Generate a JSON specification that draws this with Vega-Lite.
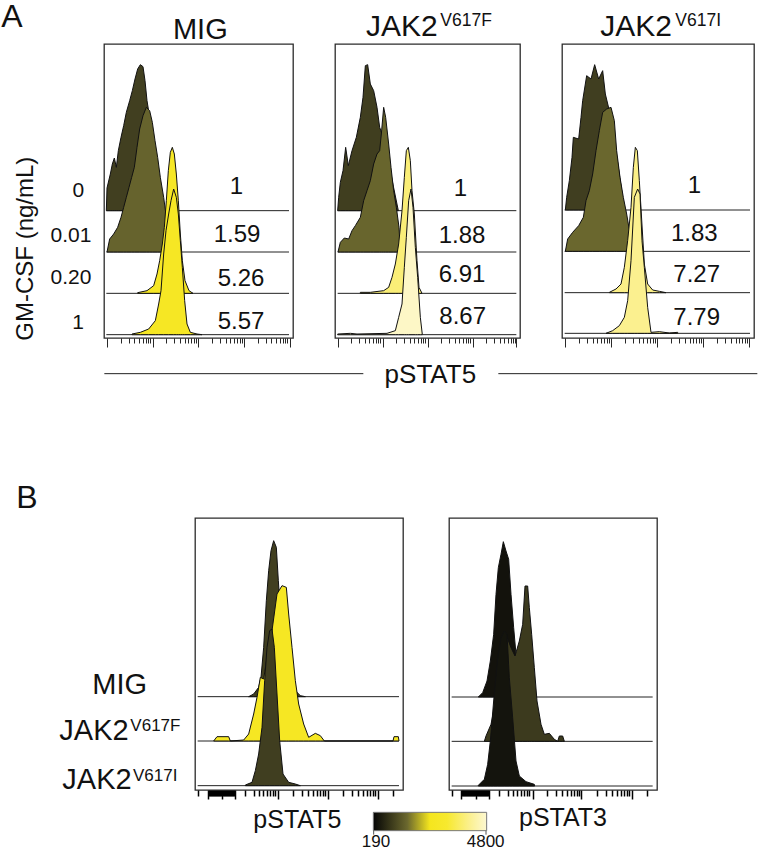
{"$schema":"https://vega.github.io/schema/vega-lite/v6.json","padding":0,"background":"white","spacing":474,"bounds":"flush",
"config":{"view":{"stroke":"#2b2b2b","strokeWidth":1.3},"text":{"font":"Liberation Sans","color":"#111"},"axis":{"domain":false,"labels":false,"grid":false,"title":null,"tickColor":"#111","tickWidth":0.9}},
"datasets":{
"samples":[{"s":"A1-0","panel":"A1","b":382,"mfi":880,"from":7,"to":555},{"s":"A1-1","panel":"A1","b":258,"mfi":1300,"from":7,"to":555},{"s":"A1-2","panel":"A1","b":134,"mfi":2600,"from":7,"to":555},{"s":"A1-3","panel":"A1","b":10,"mfi":2500,"from":7,"to":555},
{"s":"A2-0","panel":"A2","b":382,"mfi":860,"from":8,"to":544},{"s":"A2-1","panel":"A2","b":258,"mfi":1320,"from":8,"to":544},{"s":"A2-2","panel":"A2","b":134,"mfi":3700,"from":8,"to":544},{"s":"A2-3","panel":"A2","b":10,"mfi":4650,"from":8,"to":544},
{"s":"A3-0","panel":"A3","b":384,"mfi":870,"from":8,"to":564},{"s":"A3-1","panel":"A3","b":260,"mfi":1340,"from":8,"to":564},{"s":"A3-2","panel":"A3","b":136,"mfi":3900,"from":8,"to":564},{"s":"A3-3","panel":"A3","b":14,"mfi":4000,"from":8,"to":564},
{"s":"B1-0","panel":"B1","b":280,"mfi":880,"from":8,"to":612},{"s":"B1-1","panel":"B1","b":147,"mfi":2450,"from":8,"to":612},{"s":"B1-2","panel":"B1","b":13,"mfi":870,"from":8,"to":612},
{"s":"B2-0","panel":"B2","b":279,"mfi":300,"from":8,"to":611},{"s":"B2-1","panel":"B2","b":146,"mfi":820,"from":8,"to":611},{"s":"B2-2","panel":"B2","b":12,"mfi":320,"from":8,"to":611}],
"A1":[{"s":"A1-0","x":7,"y":382},{"s":"A1-0","x":9,"y":450},{"s":"A1-0","x":19,"y":492},{"s":"A1-0","x":25,"y":522},{"s":"A1-0","x":31,"y":540},{"s":"A1-0","x":37,"y":512},{"s":"A1-0","x":43,"y":562},{"s":"A1-0","x":51,"y":602},{"s":"A1-0","x":59,"y":637},{"s":"A1-0","x":67,"y":677},{"s":"A1-0","x":77,"y":712},{"s":"A1-0","x":85,"y":742},{"s":"A1-0","x":93,"y":777},{"s":"A1-0","x":101,"y":807},{"s":"A1-0","x":109,"y":820},{"s":"A1-0","x":117,"y":814},{"s":"A1-0","x":123,"y":772},{"s":"A1-0","x":129,"y":712},{"s":"A1-0","x":137,"y":662},{"s":"A1-0","x":145,"y":602},{"s":"A1-0","x":153,"y":542},{"s":"A1-0","x":161,"y":492},{"s":"A1-0","x":171,"y":442},{"s":"A1-0","x":181,"y":382},
{"s":"A1-1","x":9,"y":258},{"s":"A1-1","x":17,"y":297},{"s":"A1-1","x":29,"y":312},{"s":"A1-1","x":41,"y":332},{"s":"A1-1","x":51,"y":362},{"s":"A1-1","x":59,"y":392},{"s":"A1-1","x":67,"y":422},{"s":"A1-1","x":75,"y":452},{"s":"A1-1","x":83,"y":482},{"s":"A1-1","x":91,"y":512},{"s":"A1-1","x":99,"y":572},{"s":"A1-1","x":107,"y":627},{"s":"A1-1","x":117,"y":667},{"s":"A1-1","x":127,"y":692},{"s":"A1-1","x":137,"y":682},{"s":"A1-1","x":145,"y":647},{"s":"A1-1","x":153,"y":592},{"s":"A1-1","x":161,"y":542},{"s":"A1-1","x":169,"y":482},{"s":"A1-1","x":179,"y":422},{"s":"A1-1","x":187,"y":362},{"s":"A1-1","x":195,"y":258},
{"s":"A1-2","x":101,"y":136},{"s":"A1-2","x":129,"y":142},{"s":"A1-2","x":149,"y":157},{"s":"A1-2","x":159,"y":192},{"s":"A1-2","x":167,"y":232},{"s":"A1-2","x":175,"y":282},{"s":"A1-2","x":181,"y":332},{"s":"A1-2","x":187,"y":412},{"s":"A1-2","x":193,"y":502},{"s":"A1-2","x":199,"y":557},{"s":"A1-2","x":205,"y":572},{"s":"A1-2","x":211,"y":552},{"s":"A1-2","x":217,"y":492},{"s":"A1-2","x":223,"y":412},{"s":"A1-2","x":229,"y":312},{"s":"A1-2","x":235,"y":232},{"s":"A1-2","x":243,"y":172},{"s":"A1-2","x":255,"y":142},{"s":"A1-2","x":267,"y":134},
{"s":"A1-3","x":84,"y":12},{"s":"A1-3","x":109,"y":17},{"s":"A1-3","x":134,"y":27},{"s":"A1-3","x":154,"y":52},{"s":"A1-3","x":164,"y":102},{"s":"A1-3","x":171,"y":142},{"s":"A1-3","x":179,"y":252},{"s":"A1-3","x":186,"y":322},{"s":"A1-3","x":194,"y":372},{"s":"A1-3","x":201,"y":412},{"s":"A1-3","x":209,"y":447},{"s":"A1-3","x":217,"y":422},{"s":"A1-3","x":223,"y":372},{"s":"A1-3","x":229,"y":292},{"s":"A1-3","x":235,"y":212},{"s":"A1-3","x":242,"y":112},{"s":"A1-3","x":249,"y":42},{"s":"A1-3","x":259,"y":17},{"s":"A1-3","x":279,"y":12},{"s":"A1-3","x":294,"y":10}],
"A2":[{"s":"A2-0","x":8,"y":382},{"s":"A2-0","x":11,"y":422},{"s":"A2-0","x":16,"y":467},{"s":"A2-0","x":24,"y":502},{"s":"A2-0","x":32,"y":572},{"s":"A2-0","x":40,"y":517},{"s":"A2-0","x":51,"y":562},{"s":"A2-0","x":64,"y":602},{"s":"A2-0","x":76,"y":662},{"s":"A2-0","x":84,"y":722},{"s":"A2-0","x":91,"y":817},{"s":"A2-0","x":98,"y":820},{"s":"A2-0","x":106,"y":762},{"s":"A2-0","x":116,"y":742},{"s":"A2-0","x":126,"y":692},{"s":"A2-0","x":134,"y":632},{"s":"A2-0","x":141,"y":612},{"s":"A2-0","x":151,"y":582},{"s":"A2-0","x":170,"y":480},{"s":"A2-0","x":190,"y":382},
{"s":"A2-1","x":9,"y":258},{"s":"A2-1","x":16,"y":287},{"s":"A2-1","x":28,"y":300},{"s":"A2-1","x":41,"y":297},{"s":"A2-1","x":51,"y":322},{"s":"A2-1","x":61,"y":337},{"s":"A2-1","x":76,"y":362},{"s":"A2-1","x":86,"y":412},{"s":"A2-1","x":96,"y":442},{"s":"A2-1","x":106,"y":472},{"s":"A2-1","x":116,"y":522},{"s":"A2-1","x":126,"y":552},{"s":"A2-1","x":134,"y":562},{"s":"A2-1","x":139,"y":612},{"s":"A2-1","x":146,"y":692},{"s":"A2-1","x":152,"y":662},{"s":"A2-1","x":161,"y":582},{"s":"A2-1","x":168,"y":512},{"s":"A2-1","x":176,"y":442},{"s":"A2-1","x":184,"y":392},{"s":"A2-1","x":192,"y":332},{"s":"A2-1","x":196,"y":258},
{"s":"A2-2","x":76,"y":137},{"s":"A2-2","x":106,"y":137},{"s":"A2-2","x":146,"y":142},{"s":"A2-2","x":161,"y":152},{"s":"A2-2","x":171,"y":182},{"s":"A2-2","x":181,"y":222},{"s":"A2-2","x":191,"y":282},{"s":"A2-2","x":201,"y":382},{"s":"A2-2","x":208,"y":482},{"s":"A2-2","x":214,"y":562},{"s":"A2-2","x":220,"y":572},{"s":"A2-2","x":226,"y":532},{"s":"A2-2","x":231,"y":442},{"s":"A2-2","x":238,"y":372},{"s":"A2-2","x":246,"y":232},{"s":"A2-2","x":252,"y":152},{"s":"A2-2","x":261,"y":134},
{"s":"A2-3","x":8,"y":12},{"s":"A2-3","x":46,"y":14},{"s":"A2-3","x":66,"y":12},{"s":"A2-3","x":156,"y":14},{"s":"A2-3","x":181,"y":22},{"s":"A2-3","x":191,"y":62},{"s":"A2-3","x":201,"y":102},{"s":"A2-3","x":208,"y":212},{"s":"A2-3","x":214,"y":302},{"s":"A2-3","x":221,"y":412},{"s":"A2-3","x":228,"y":447},{"s":"A2-3","x":234,"y":392},{"s":"A2-3","x":241,"y":272},{"s":"A2-3","x":248,"y":182},{"s":"A2-3","x":256,"y":62},{"s":"A2-3","x":262,"y":10}],
"A3":[{"s":"A3-0","x":10,"y":384},{"s":"A3-0","x":14,"y":422},{"s":"A3-0","x":22,"y":472},{"s":"A3-0","x":30,"y":542},{"s":"A3-0","x":34,"y":602},{"s":"A3-0","x":50,"y":597},{"s":"A3-0","x":57,"y":662},{"s":"A3-0","x":62,"y":712},{"s":"A3-0","x":74,"y":787},{"s":"A3-0","x":87,"y":777},{"s":"A3-0","x":98,"y":820},{"s":"A3-0","x":110,"y":777},{"s":"A3-0","x":122,"y":802},{"s":"A3-0","x":130,"y":732},{"s":"A3-0","x":142,"y":682},{"s":"A3-0","x":157,"y":592},{"s":"A3-0","x":172,"y":492},{"s":"A3-0","x":187,"y":384},
{"s":"A3-1","x":10,"y":260},{"s":"A3-1","x":17,"y":297},{"s":"A3-1","x":32,"y":317},{"s":"A3-1","x":50,"y":337},{"s":"A3-1","x":64,"y":362},{"s":"A3-1","x":72,"y":412},{"s":"A3-1","x":82,"y":442},{"s":"A3-1","x":92,"y":492},{"s":"A3-1","x":102,"y":562},{"s":"A3-1","x":112,"y":622},{"s":"A3-1","x":122,"y":677},{"s":"A3-1","x":134,"y":687},{"s":"A3-1","x":147,"y":692},{"s":"A3-1","x":157,"y":652},{"s":"A3-1","x":164,"y":562},{"s":"A3-1","x":174,"y":482},{"s":"A3-1","x":184,"y":422},{"s":"A3-1","x":194,"y":372},{"s":"A3-1","x":204,"y":312},{"s":"A3-1","x":208,"y":260},
{"s":"A3-2","x":142,"y":137},{"s":"A3-2","x":162,"y":147},{"s":"A3-2","x":177,"y":162},{"s":"A3-2","x":187,"y":212},{"s":"A3-2","x":197,"y":292},{"s":"A3-2","x":207,"y":392},{"s":"A3-2","x":214,"y":512},{"s":"A3-2","x":220,"y":572},{"s":"A3-2","x":226,"y":562},{"s":"A3-2","x":232,"y":472},{"s":"A3-2","x":238,"y":372},{"s":"A3-2","x":247,"y":222},{"s":"A3-2","x":257,"y":162},{"s":"A3-2","x":272,"y":144},{"s":"A3-2","x":292,"y":140},{"s":"A3-2","x":312,"y":136},
{"s":"A3-3","x":132,"y":14},{"s":"A3-3","x":152,"y":22},{"s":"A3-3","x":172,"y":37},{"s":"A3-3","x":187,"y":62},{"s":"A3-3","x":197,"y":112},{"s":"A3-3","x":207,"y":232},{"s":"A3-3","x":217,"y":422},{"s":"A3-3","x":227,"y":447},{"s":"A3-3","x":234,"y":432},{"s":"A3-3","x":240,"y":292},{"s":"A3-3","x":247,"y":212},{"s":"A3-3","x":257,"y":92},{"s":"A3-3","x":267,"y":17},{"s":"A3-3","x":292,"y":19},{"s":"A3-3","x":322,"y":15},{"s":"A3-3","x":347,"y":17}],
"B1":[{"s":"B1-0","x":161,"y":280},{"s":"B1-0","x":176,"y":288},{"s":"B1-0","x":191,"y":308},{"s":"B1-0","x":198,"y":338},{"s":"B1-0","x":206,"y":428},{"s":"B1-0","x":214,"y":568},{"s":"B1-0","x":221,"y":658},{"s":"B1-0","x":228,"y":718},{"s":"B1-0","x":236,"y":748},{"s":"B1-0","x":244,"y":728},{"s":"B1-0","x":250,"y":628},{"s":"B1-0","x":258,"y":508},{"s":"B1-0","x":266,"y":428},{"s":"B1-0","x":286,"y":348},{"s":"B1-0","x":301,"y":298},{"s":"B1-0","x":316,"y":283},{"s":"B1-0","x":331,"y":280},
{"s":"B1-1","x":56,"y":147},{"s":"B1-1","x":66,"y":160},{"s":"B1-1","x":101,"y":160},{"s":"B1-1","x":106,"y":147},{"s":"B1-1","x":146,"y":150},{"s":"B1-1","x":161,"y":168},{"s":"B1-1","x":176,"y":228},{"s":"B1-1","x":186,"y":278},{"s":"B1-1","x":196,"y":338},{"s":"B1-1","x":206,"y":333},{"s":"B1-1","x":216,"y":398},{"s":"B1-1","x":231,"y":478},{"s":"B1-1","x":246,"y":588},{"s":"B1-1","x":261,"y":613},{"s":"B1-1","x":274,"y":608},{"s":"B1-1","x":281,"y":528},{"s":"B1-1","x":291,"y":428},{"s":"B1-1","x":301,"y":328},{"s":"B1-1","x":311,"y":258},{"s":"B1-1","x":326,"y":198},{"s":"B1-1","x":341,"y":158},{"s":"B1-1","x":361,"y":170},{"s":"B1-1","x":376,"y":163},{"s":"B1-1","x":388,"y":147},{"s":"B1-1","x":594,"y":147},{"s":"B1-1","x":597,"y":160},{"s":"B1-1","x":610,"y":160},{"s":"B1-1","x":612,"y":147},
{"s":"B1-2","x":151,"y":15},{"s":"B1-2","x":171,"y":23},{"s":"B1-2","x":181,"y":58},{"s":"B1-2","x":191,"y":108},{"s":"B1-2","x":201,"y":188},{"s":"B1-2","x":209,"y":328},{"s":"B1-2","x":216,"y":428},{"s":"B1-2","x":224,"y":478},{"s":"B1-2","x":231,"y":483},{"s":"B1-2","x":238,"y":428},{"s":"B1-2","x":246,"y":288},{"s":"B1-2","x":254,"y":148},{"s":"B1-2","x":264,"y":48},{"s":"B1-2","x":281,"y":23},{"s":"B1-2","x":301,"y":18},{"s":"B1-2","x":316,"y":13}],
"B2":[{"s":"B2-0","x":88,"y":279},{"s":"B2-0","x":101,"y":292},{"s":"B2-0","x":114,"y":327},{"s":"B2-0","x":124,"y":387},{"s":"B2-0","x":134,"y":467},{"s":"B2-0","x":141,"y":587},{"s":"B2-0","x":148,"y":667},{"s":"B2-0","x":156,"y":707},{"s":"B2-0","x":163,"y":745},{"s":"B2-0","x":171,"y":717},{"s":"B2-0","x":179,"y":692},{"s":"B2-0","x":186,"y":587},{"s":"B2-0","x":194,"y":487},{"s":"B2-0","x":201,"y":407},{"s":"B2-0","x":220,"y":340},{"s":"B2-0","x":240,"y":290},{"s":"B2-0","x":256,"y":279},
{"s":"B2-1","x":106,"y":146},{"s":"B2-1","x":111,"y":162},{"s":"B2-1","x":126,"y":197},{"s":"B2-1","x":136,"y":247},{"s":"B2-1","x":146,"y":367},{"s":"B2-1","x":156,"y":447},{"s":"B2-1","x":171,"y":467},{"s":"B2-1","x":186,"y":427},{"s":"B2-1","x":198,"y":402},{"s":"B2-1","x":211,"y":447},{"s":"B2-1","x":221,"y":497},{"s":"B2-1","x":228,"y":612},{"s":"B2-1","x":236,"y":612},{"s":"B2-1","x":241,"y":547},{"s":"B2-1","x":248,"y":467},{"s":"B2-1","x":256,"y":367},{"s":"B2-1","x":264,"y":267},{"s":"B2-1","x":276,"y":197},{"s":"B2-1","x":286,"y":167},{"s":"B2-1","x":301,"y":170},{"s":"B2-1","x":316,"y":152},{"s":"B2-1","x":326,"y":146},{"s":"B2-1","x":331,"y":162},{"s":"B2-1","x":341,"y":162},{"s":"B2-1","x":346,"y":146},
{"s":"B2-2","x":88,"y":14},{"s":"B2-2","x":106,"y":32},{"s":"B2-2","x":116,"y":77},{"s":"B2-2","x":124,"y":147},{"s":"B2-2","x":134,"y":267},{"s":"B2-2","x":146,"y":397},{"s":"B2-2","x":156,"y":457},{"s":"B2-2","x":166,"y":477},{"s":"B2-2","x":174,"y":467},{"s":"B2-2","x":181,"y":337},{"s":"B2-2","x":191,"y":217},{"s":"B2-2","x":201,"y":87},{"s":"B2-2","x":211,"y":42},{"s":"B2-2","x":231,"y":25},{"s":"B2-2","x":256,"y":17},{"s":"B2-2","x":257,"y":12}]
},
"vconcat":[
{"spacing":42,"bounds":"flush","hconcat":[
{"width":189,"height":294,
"encoding":{"x":{"field":"x","type":"quantitative","scale":{"domain":[0,567]},"axis":{"values":[9,50,74,91,105,116,125,133,139,146,187,211,228,242,253,262,270,276,283,324,348,365,379,390,399,407,413,420,461,485,502,516,527,536,544,550,557],"tickSize":{"condition":{"test":"indexof([9,146,283,420,557],datum.value)>=0","value":9},"value":5}}},"y":{"field":"y","type":"quantitative","scale":{"domain":[0,882]},"axis":null}},
"layer":[
{"data":{"name":"samples"},"transform":[{"filter":"datum.panel==='A1'"}],"mark":{"type":"rule","color":"#222","strokeWidth":1},"encoding":{"x":{"field":"from","type":"quantitative"},"x2":{"field":"to"},"y":{"field":"b","type":"quantitative"}}},
{"data":{"name":"A1"},"transform":[{"lookup":"s","from":{"data":{"name":"samples"},"key":"s","fields":["b","mfi"]}}],"mark":{"type":"area","interpolate":"linear","stroke":"#111","strokeWidth":1},"encoding":{"y":{"field":"y","type":"quantitative","stack":null},"y2":{"field":"b"},"detail":{"field":"s"},"color":{"field":"mfi","type":"quantitative","legend":null,"scale":{"domain":[190,1350,2250,3000,4000,4800],"range":["#050505","#6b682e","#f5e61e","#f7e92e","#fbf08f","#fdf8d2"]}}}},
{"data":{"values":[{"t":"1","x":397,"y":432},{"t":"1.59","x":399,"y":287},{"t":"5.26","x":411,"y":157},{"t":"5.57","x":411,"y":27}]},"mark":{"type":"text","fontSize":24,"baseline":"alphabetic"},"encoding":{"text":{"field":"t"}}},
{"data":{"values":[{"t":"0","x":-77,"y":422},{"t":"0.01","x":-99,"y":287},{"t":"0.20","x":-99,"y":162},{"t":"1","x":-78,"y":27}]},"mark":{"type":"text","fontSize":21,"baseline":"alphabetic"},"encoding":{"text":{"field":"t"}}},
{"data":{"values":[{"t":"GM-CSF (ng/mL)","x":-212,"y":268}]},"mark":{"type":"text","fontSize":24,"angle":270,"baseline":"alphabetic"},"encoding":{"text":{"field":"t"}}},
{"data":{"values":[{"t":"A","x":-308,"y":934}]},"mark":{"type":"text","fontSize":32,"align":"left","baseline":"alphabetic"},"encoding":{"text":{"field":"t"}}},
{"data":{"values":[{"t":"MIG","x":289,"y":897}]},"mark":{"type":"text","fontSize":29,"baseline":"alphabetic"},"encoding":{"text":{"field":"t"}}}
]},
{"width":185,"height":294,
"encoding":{"x":{"field":"x","type":"quantitative","scale":{"domain":[0,555]},"axis":{"values":[8,48,72,89,103,113,122,130,136,143,183,207,224,237,248,257,265,271,278,318,342,359,372,383,392,400,406,413,453,477,494,507,518,527,535,541,544],"tickSize":{"condition":{"test":"indexof([8,143,278,413,544],datum.value)>=0","value":9},"value":5}}},"y":{"field":"y","type":"quantitative","scale":{"domain":[0,882]},"axis":null}},
"layer":[
{"data":{"name":"samples"},"transform":[{"filter":"datum.panel==='A2'"}],"mark":{"type":"rule","color":"#222","strokeWidth":1},"encoding":{"x":{"field":"from","type":"quantitative"},"x2":{"field":"to"},"y":{"field":"b","type":"quantitative"}}},
{"data":{"name":"A2"},"transform":[{"lookup":"s","from":{"data":{"name":"samples"},"key":"s","fields":["b","mfi"]}}],"mark":{"type":"area","interpolate":"linear","stroke":"#111","strokeWidth":1},"encoding":{"y":{"field":"y","type":"quantitative","stack":null},"y2":{"field":"b"},"detail":{"field":"s"},"color":{"field":"mfi","type":"quantitative","legend":null,"scale":{"domain":[190,1350,2250,3000,4000,4800],"range":["#050505","#6b682e","#f5e61e","#f7e92e","#fbf08f","#fdf8d2"]}}}},
{"data":{"values":[{"t":"1","x":376,"y":427},{"t":"1.88","x":381,"y":284},{"t":"6.91","x":381,"y":167},{"t":"8.67","x":383,"y":42}]},"mark":{"type":"text","fontSize":24,"baseline":"alphabetic"},"encoding":{"text":{"field":"t"}}},
{"data":{"values":[{"t":"JAK2","x":93,"y":905}]},"mark":{"type":"text","fontSize":30,"align":"left","baseline":"alphabetic"},"encoding":{"text":{"field":"t"}}},
{"data":{"values":[{"t":"V617F","x":316,"y":937}]},"mark":{"type":"text","fontSize":17.5,"align":"left","baseline":"alphabetic"},"encoding":{"text":{"field":"t"}}},
{"data":{"values":[{"t":"pSTAT5","x":286,"y":-136}]},"mark":{"type":"text","fontSize":26,"baseline":"alphabetic"},"encoding":{"text":{"field":"t"}}},
{"data":{"values":[{"x":-692,"x2":85,"y":-107},{"x":490,"x2":1267,"y":-107}]},"mark":{"type":"rule","color":"#222","strokeWidth":1},"encoding":{"x2":{"field":"x2"}}}
]},
{"width":192,"height":294,
"encoding":{"x":{"field":"x","type":"quantitative","scale":{"domain":[0,576]},"axis":{"values":[9,50,75,92,106,117,126,134,140,147,189,213,230,244,255,265,273,279,286,327,351,369,383,394,403,411,417,424,466,490,507,521,532,541,549,555,562],"tickSize":{"condition":{"test":"indexof([9,147,286,424,562],datum.value)>=0","value":9},"value":5}}},"y":{"field":"y","type":"quantitative","scale":{"domain":[0,882]},"axis":null}},
"layer":[
{"data":{"name":"samples"},"transform":[{"filter":"datum.panel==='A3'"}],"mark":{"type":"rule","color":"#222","strokeWidth":1},"encoding":{"x":{"field":"from","type":"quantitative"},"x2":{"field":"to"},"y":{"field":"b","type":"quantitative"}}},
{"data":{"name":"A3"},"transform":[{"lookup":"s","from":{"data":{"name":"samples"},"key":"s","fields":["b","mfi"]}}],"mark":{"type":"area","interpolate":"linear","stroke":"#111","strokeWidth":1},"encoding":{"y":{"field":"y","type":"quantitative","stack":null},"y2":{"field":"b"},"detail":{"field":"s"},"color":{"field":"mfi","type":"quantitative","legend":null,"scale":{"domain":[190,1350,2250,3000,4000,4800],"range":["#050505","#6b682e","#f5e61e","#f7e92e","#fbf08f","#fdf8d2"]}}}},
{"data":{"values":[{"t":"1","x":397,"y":435},{"t":"1.83","x":397,"y":290},{"t":"7.27","x":404,"y":167},{"t":"7.79","x":404,"y":39}]},"mark":{"type":"text","fontSize":24,"baseline":"alphabetic"},"encoding":{"text":{"field":"t"}}},
{"data":{"values":[{"t":"JAK2","x":115,"y":905}]},"mark":{"type":"text","fontSize":30,"align":"left","baseline":"alphabetic"},"encoding":{"text":{"field":"t"}}},
{"data":{"values":[{"t":"V617I","x":340,"y":937}]},"mark":{"type":"text","fontSize":17.5,"align":"left","baseline":"alphabetic"},"encoding":{"text":{"field":"t"}}}
]}
]},
{"spacing":46,"bounds":"flush","hconcat":[
{"width":45,"height":272,"view":{"stroke":null},
"data":{"values":[{"t":"B","x":-263,"y":847}]},
"mark":{"type":"text","fontSize":32,"align":"left","baseline":"alphabetic"},
"encoding":{"x":{"field":"x","type":"quantitative","scale":{"domain":[0,135]},"axis":null},"y":{"field":"y","type":"quantitative","scale":{"domain":[0,816]},"axis":null},"text":{"field":"t"}}},
{"width":208,"height":272,
"encoding":{"x":{"field":"x","type":"quantitative","scale":{"domain":[0,624]},"axis":{"tickWidth":1.5,"tickColor":"#000","values":[9,38,41,44,47,50,53,56,59,62,65,68,71,74,77,80,83,86,89,92,95,98,101,104,107,110,113,116,119,151,176,191,204,215,225,233,241,248,293,320,338,353,365,375,383,391,398,443,470,488,503,515,525,533,541,548,593],"tickSize":{"condition":{"test":"indexof([38,80,119,248,398,548],datum.value)>=0","value":9},"value":6}}},"y":{"field":"y","type":"quantitative","scale":{"domain":[0,816]},"axis":null}},
"layer":[
{"data":{"name":"samples"},"transform":[{"filter":"datum.panel==='B1'"}],"mark":{"type":"rule","color":"#222","strokeWidth":1},"encoding":{"x":{"field":"from","type":"quantitative"},"x2":{"field":"to"},"y":{"field":"b","type":"quantitative"}}},
{"data":{"name":"B1"},"transform":[{"lookup":"s","from":{"data":{"name":"samples"},"key":"s","fields":["b","mfi"]}}],"mark":{"type":"area","interpolate":"linear","stroke":"#111","strokeWidth":1},"encoding":{"y":{"field":"y","type":"quantitative","stack":null},"y2":{"field":"b"},"detail":{"field":"s"},"color":{"field":"mfi","type":"quantitative","legend":null,"scale":{"domain":[190,1350,2250,3000,4000,4800],"range":["#050505","#6b682e","#f5e61e","#f7e92e","#fbf08f","#fdf8d2"]}}}},
{"data":{"values":[{"t":"MIG","x":-308,"y":289},{"t":"JAK2","x":-407,"y":151},{"t":"JAK2","x":-398,"y":4}]},"mark":{"type":"text","fontSize":29,"align":"left","baseline":"alphabetic"},"encoding":{"text":{"field":"t"}}},
{"data":{"values":[{"t":"V617F","x":-194,"y":178},{"t":"V617I","x":-186,"y":28}]},"mark":{"type":"text","fontSize":17,"align":"left","baseline":"alphabetic"},"encoding":{"text":{"field":"t"}}},
{"data":{"values":[{"t":"pSTAT5","x":307,"y":-113}]},"mark":{"type":"text","fontSize":25,"baseline":"alphabetic"},"encoding":{"text":{"field":"t"}}}
]},
{"width":208,"height":272,
"encoding":{"x":{"field":"x","type":"quantitative","scale":{"domain":[0,624]},"axis":{"tickWidth":1.5,"tickColor":"#000","values":[8,36,39,42,45,48,51,54,57,60,63,66,69,72,75,78,81,84,87,90,93,96,99,102,105,108,111,114,117,119,151,176,191,204,215,225,233,241,252,293,320,338,353,365,375,383,391,396,443,470,488,503,515,525,533,541,548,594],"tickSize":{"condition":{"test":"indexof([36,81,119,252,396,548],datum.value)>=0","value":9},"value":6}}},"y":{"field":"y","type":"quantitative","scale":{"domain":[0,816]},"axis":null}},
"layer":[
{"data":{"name":"samples"},"transform":[{"filter":"datum.panel==='B2'"}],"mark":{"type":"rule","color":"#222","strokeWidth":1},"encoding":{"x":{"field":"from","type":"quantitative"},"x2":{"field":"to"},"y":{"field":"b","type":"quantitative"}}},
{"data":{"name":"B2"},"transform":[{"lookup":"s","from":{"data":{"name":"samples"},"key":"s","fields":["b","mfi"]}}],"mark":{"type":"area","interpolate":"linear","stroke":"#111","strokeWidth":1},"encoding":{"y":{"field":"y","type":"quantitative","stack":null},"y2":{"field":"b"},"detail":{"field":"s"},"color":{"field":"mfi","type":"quantitative","legend":null,"scale":{"domain":[190,1350,2250,3000,4000,4800],"range":["#050505","#6b682e","#f5e61e","#f7e92e","#fbf08f","#fdf8d2"]}}}},
{"data":{"values":[{"t":"pSTAT3","x":342,"y":-107}]},"mark":{"type":"text","fontSize":25,"baseline":"alphabetic"},"encoding":{"text":{"field":"t"}}},
{"data":{"values":[{"x":-227,"x2":113,"y":-67,"y2":-122}]},"mark":{"type":"rect","stroke":"#777","strokeWidth":1,"fill":{"x1":0,"y1":0,"x2":1,"y2":0,"gradient":"linear","stops":[{"offset":0,"color":"#050505"},{"offset":0.3,"color":"#6b682e"},{"offset":0.5,"color":"#f5e61e"},{"offset":0.65,"color":"#f7e92e"},{"offset":0.85,"color":"#fbf08f"},{"offset":1,"color":"#fdf8d2"}]}},"encoding":{"x2":{"field":"x2"},"y2":{"field":"y2"}}},
{"data":{"values":[{"x":-226,"y":-122,"y2":-134},{"x":111,"y":-122,"y2":-134}]},"mark":{"type":"rule","color":"#555","strokeWidth":1},"encoding":{"y2":{"field":"y2"}}},
{"data":{"values":[{"t":"190","x":-219,"y":-170},{"t":"4800","x":110,"y":-170}]},"mark":{"type":"text","fontSize":17,"baseline":"alphabetic"},"encoding":{"text":{"field":"t"}}}
]}
]}
]}
